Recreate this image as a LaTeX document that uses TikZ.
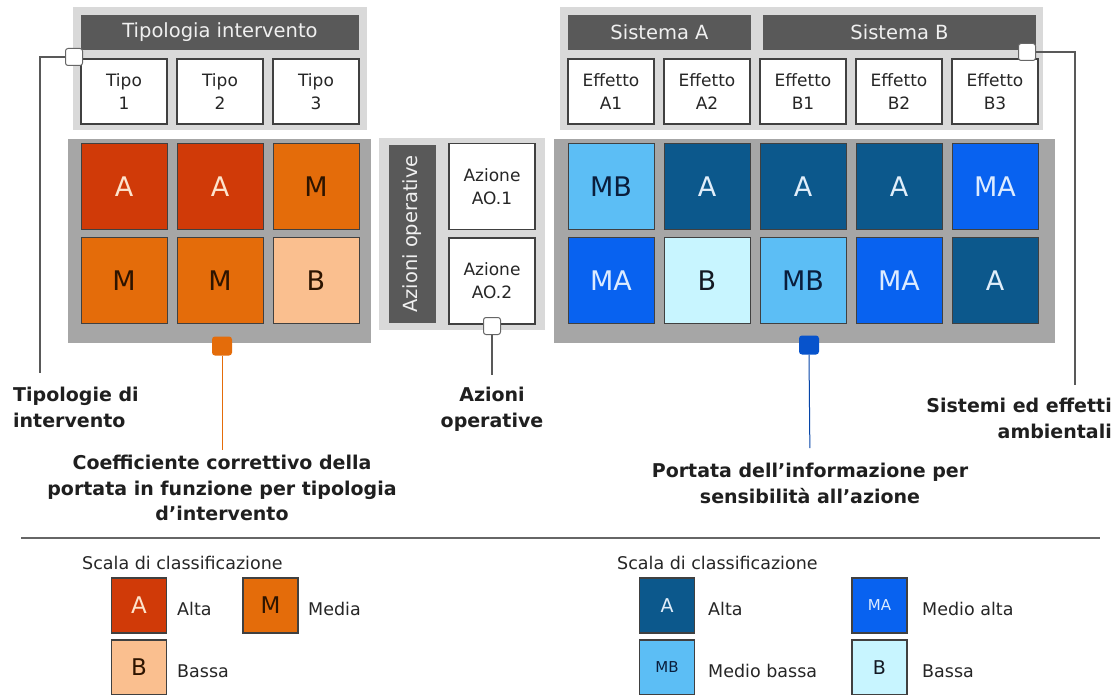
\documentclass[tikz,border=0pt]{standalone}
\usepackage{fontspec}
\setmainfont{DejaVu Sans}
\usepackage{xcolor}
\usetikzlibrary{positioning}
\definecolor{oA}{RGB}{208,58,8}
\definecolor{oM}{RGB}{228,108,10}
\definecolor{oB}{RGB}{250,191,143}
\definecolor{toA}{RGB}{253,228,205}
\definecolor{toM}{RGB}{45,20,0}
\definecolor{toB}{RGB}{45,20,0}
\definecolor{bA}{RGB}{12,88,140}
\definecolor{bMA}{RGB}{8,98,240}
\definecolor{bMB}{RGB}{92,190,245}
\definecolor{bB}{RGB}{200,245,255}
\definecolor{tbA}{RGB}{225,238,250}
\definecolor{tbMA}{RGB}{220,235,255}
\definecolor{tbMB}{RGB}{10,30,60}
\definecolor{tbB}{RGB}{20,25,35}
\definecolor{hdgray}{RGB}{89,89,89}
\definecolor{lightpanel}{RGB}{217,217,217}
\definecolor{gridpanel}{RGB}{166,166,166}

\begin{document}
\begin{tikzpicture}[x=1pt, y=-1pt,
  cell/.style={draw=black!75, line width=0.8pt, minimum width=86pt,
               minimum height=86pt, inner sep=0pt,
               font=\fontsize{27}{30}\selectfont},
  wbox/.style={draw=black!75, line width=1.2pt, fill=white, align=center,
               minimum width=86pt, minimum height=65pt, inner sep=0pt,
               text=black!85, font=\fontsize{17}{23}\selectfont},
  hdr/.style={fill=hdgray, text=black!6, minimum height=35pt, inner sep=0pt,
              font=\fontsize{19.5}{22}\selectfont},
  knob/.style={draw=black!60, fill=white, line width=1pt,
               rounded corners=2.5pt, minimum size=17pt, inner sep=0pt},
  marker/.style={rounded corners=3pt, minimum width=20pt,
                 minimum height=19pt, inner sep=0pt},
  lbl/.style={font=\fontsize{19}{25.5}\selectfont\bfseries, inner sep=0pt,
              text=black!88},
  link/.style={draw=black!65, line width=1.1pt},
  legbox/.style={draw=black!75, line width=1.3pt, minimum width=55pt,
                 minimum height=55pt, inner sep=0pt},
  legtxt/.style={font=\fontsize{17.5}{20}\selectfont, inner sep=0pt,
                 anchor=base west, text=black!85}
]
\useasboundingbox (0,0) rectangle (1118,695);
\fill[white] (0,0) rectangle (1118,695);

% panels
\fill[lightpanel] (73,7) rectangle (367,130);
\fill[lightpanel] (560,7) rectangle (1043,130);
\fill[lightpanel] (379,138) rectangle (545,330);
\fill[gridpanel] (68,139) rectangle (371,343);
\fill[gridpanel] (554,139) rectangle (1055,343);

% headers
\node[hdr, minimum width=278pt] (hTipo) at (220,32.5) {Tipologia intervento};
\node[hdr, minimum width=183pt] (hSisA) at (659.5,32.5) {Sistema A};
\node[hdr, minimum width=273pt] (hSisB) at (899.5,32.5) {Sistema B};
\node[hdr, rotate=90, minimum width=178pt, minimum height=47pt]
  (hAz) at (412.5,234) {Azioni operative};

% column boxes
\foreach \t [count=\i] in {1,2,3}
  \node[wbox] (tipo\i) at ({124+96*(\i-1)},91.5) {Tipo\\\t};
\foreach \t [count=\i] in {A1,A2,B1,B2,B3}
  \node[wbox] (eff\i) at ({611+96*(\i-1)},91.5) {Effetto\\\t};
\node[wbox, minimum height=86pt] (az1) at (492,186.5) {Azione\\AO.1};
\node[wbox, minimum height=86pt] (az2) at (492,281) {Azione\\AO.2};

% matrices
\foreach \r/\c/\v in {1/1/A, 1/2/A, 1/3/M, 2/1/M, 2/2/M, 2/3/B}
  \node[cell, fill=o\v, text=to\v] (o\r\c)
    at ({124+96*(\c-1)},{186.5+94*(\r-1)}) {\v};
\foreach \r/\c/\v in {1/1/MB, 1/2/A, 1/3/A, 1/4/A, 1/5/MA,
                      2/1/MA, 2/2/B, 2/3/MB, 2/4/MA, 2/5/A}
  \node[cell, fill=b\v, text=tb\v] (b\r\c)
    at ({611+96*(\c-1)},{186.5+94*(\r-1)}) {\v};

% knobs and markers
\node[knob] (knobT) at (74,57) {};
\node[knob] (knobAz) at (492,326) {};
\node[knob] (knobS) at (1027,52) {};
\node[marker, fill=oM] (dotC) at (222,346) {};
\node[marker, fill=bMA!85!black] (dotP) at (809,345) {};

% labels
\node[lbl, anchor=north west, align=left] (lblTipo) at (13,387)
  {Tipologie di\\intervento};
\node[lbl, anchor=north, align=center] (lblAz) at (492,387)
  {Azioni\\operative};
\node[lbl, anchor=north east, align=right] (lblSist) at (1112,398)
  {Sistemi ed effetti\\ambientali};
\node[lbl, anchor=north, align=center] (lblCoeff) at (222,455)
  {Coefficiente correttivo della\\portata in funzione per tipologia\\d’intervento};
\node[lbl, anchor=north, align=center] (lblPort) at (810,463)
  {Portata dell’informazione per\\sensibilità all’azione};

\coordinate (endTipo) at (40,373);
\coordinate (endSist) at (1075,385);
\draw[link] (knobT.west) -| (endTipo);
\draw[link, shorten >=12pt] (knobAz.south) -- (lblAz.north);
\draw[link] (knobS.east) -| (endSist);
\draw[oM, line width=1pt, shorten >=5pt] (dotC.south) -- (lblCoeff.north);
\draw[bMA!70!black, line width=1pt, shorten >=15pt] (dotP.south) -- (lblPort.north);

% legend
\coordinate (sepL) at (21,538);
\coordinate (sepR) at (1100,538);
\draw[black!60, line width=1.2pt] (sepL) -- (sepR);

\node[legtxt] (scalaL) at (82,569) {Scala di classificazione};
\node[legbox, fill=oA, text=toA, font=\fontsize{23}{25}\selectfont] (kA) at (139,605.5) {A};
\node[legbox, fill=oM, text=toM, font=\fontsize{23}{25}\selectfont] (kM) at (270.5,605.5) {M};
\node[legbox, fill=oB, text=toB, font=\fontsize{23}{25}\selectfont] (kB) at (139,667.5) {B};
\node[legtxt] (kAt) at (177,615) {Alta};
\node[legtxt] (kMt) at (308,615) {Media};
\node[legtxt] (kBt) at (177,677) {Bassa};

\node[legtxt] (scalaR) at (617,569) {Scala di classificazione};
\node[legbox, fill=bA, text=tbA, font=\fontsize{19}{21}\selectfont] (kbA) at (667,605.5) {A};
\node[legbox, fill=bMA, text=tbMA, font=\fontsize{15}{17}\selectfont] (kbMA) at (879.5,605.5) {MA};
\node[legbox, fill=bMB, text=tbMB, font=\fontsize{15}{17}\selectfont] (kbMB) at (667,667.5) {MB};
\node[legbox, fill=bB, text=tbB, font=\fontsize{19}{21}\selectfont] (kbB) at (879.5,667.5) {B};
\node[legtxt] (kbAt) at (708,615) {Alta};
\node[legtxt] (kbMAt) at (922,615) {Medio alta};
\node[legtxt] (kbMBt) at (708,677) {Medio bassa};
\node[legtxt] (kbBt) at (922,677) {Bassa};
\end{tikzpicture}
\end{document}
